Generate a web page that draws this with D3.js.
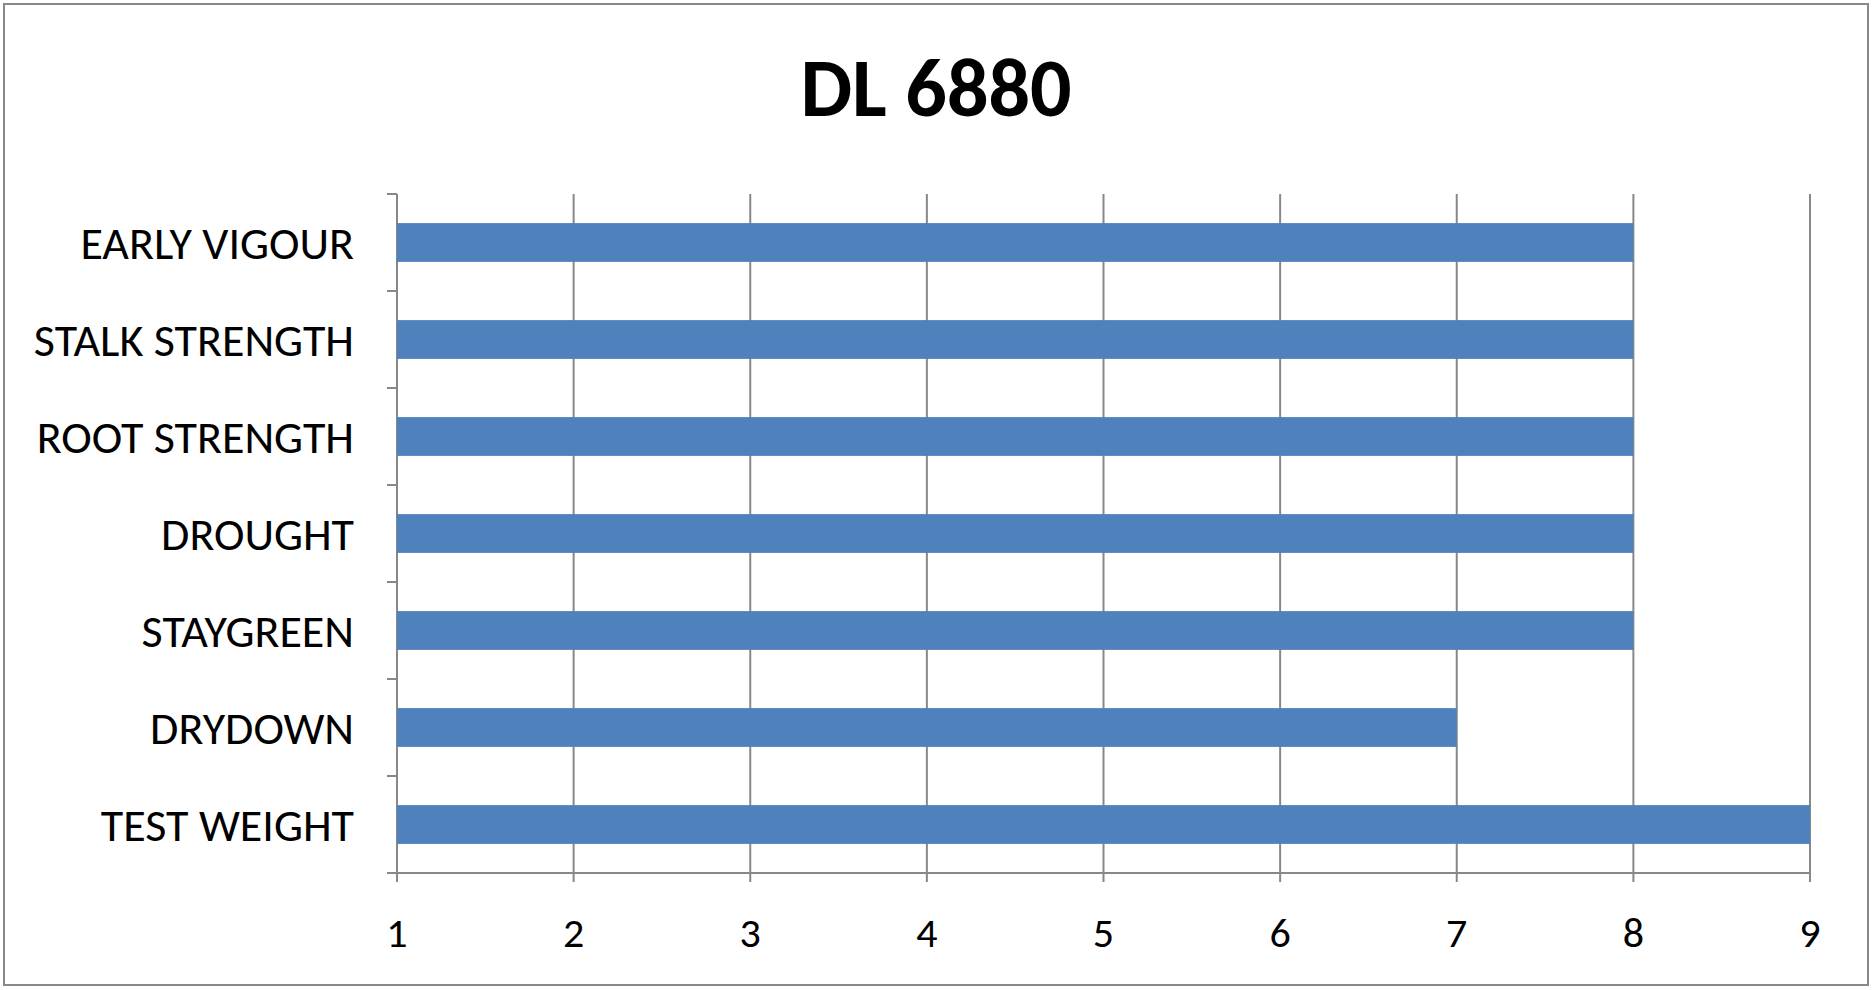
<!DOCTYPE html><html><head><meta charset="utf-8"><script src="https://cdn.jsdelivr.net/npm/d3@7"></script>
<style>body{margin:0;background:#fff}text{font-family:Carlito,Calibri,"Open Sans",sans-serif}</style></head><body>
<svg id="c" width="1873" height="990"></svg>
<script>
const categories=["EARLY VIGOUR","STALK STRENGTH","ROOT STRENGTH","DROUGHT","STAYGREEN","DRYDOWN","TEST WEIGHT"];
const values=[8,8,8,8,8,7,9];
const ticks=[1,2,3,4,5,6,7,8,9];
const svg=d3.select("#c");
svg.append("rect").attr("x",4).attr("y",4).attr("width",1864).attr("height",981).attr("fill","#fff").attr("stroke","#888").attr("stroke-width",2);
svg.append("text").attr("x",936).attr("y",116).attr("text-anchor","middle").attr("font-size",82).attr("font-weight","bold").text("DL 6880");
const m={l:397,r:1810,t:194,b:873};
const x=d3.scaleLinear().domain([1,9]).range([m.l,m.r]);
const y=d3.scaleBand().domain(categories).range([m.t,m.b]).paddingInner(0.6).paddingOuter(0.3);
const yb=d3.scaleBand().domain(categories).range([m.t,m.b]);
const g=svg.append("g");
ticks.forEach(t=>g.append("line").attr("x1",x(t)).attr("x2",x(t)).attr("y1",m.t).attr("y2",m.b+9).attr("stroke","#888").attr("stroke-width",2));
g.selectAll("rect.b").data(categories).join("rect").attr("x",x(1)).attr("y",d=>y(d)).attr("height",y.bandwidth()).attr("width",(d,i)=>x(values[i])-x(1)).attr("fill","#4f81bd");
g.append("line").attr("x1",m.l).attr("x2",m.r).attr("y1",m.b).attr("y2",m.b).attr("stroke","#888").attr("stroke-width",2);
categories.concat([null]).forEach((d,i)=>g.append("line").attr("x1",m.l-10).attr("x2",m.l).attr("y1",m.t+i*yb.step()).attr("y2",m.t+i*yb.step()).attr("stroke","#888").attr("stroke-width",2));
g.selectAll("text.c").data(categories).join("text").attr("x",m.l-43).attr("y",d=>yb(d)+yb.bandwidth()/2).attr("dy","0.35em").attr("text-anchor","end").attr("font-size",46).text(d=>d);
g.selectAll("text.t").data(ticks).join("text").attr("x",d=>x(d)).attr("y",947).attr("text-anchor","middle").attr("font-size",42).text(d=>d);
</script></body></html>
